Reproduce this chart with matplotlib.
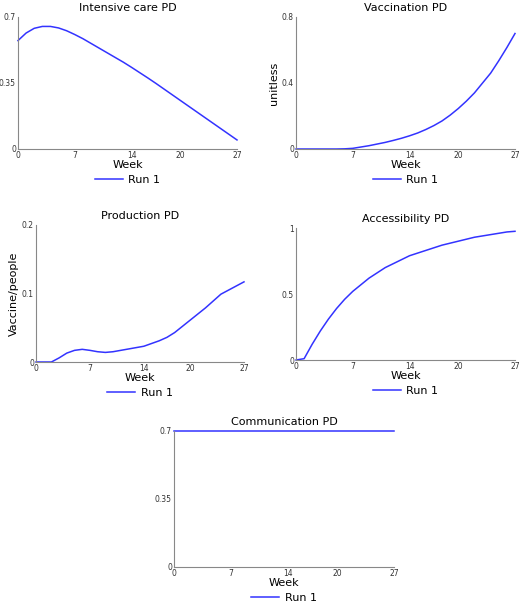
import numpy as np
import matplotlib
matplotlib.use("Agg")
import matplotlib.pyplot as plt

weeks = np.arange(28)
intensive = [0.575, 0.615, 0.64, 0.65, 0.65, 0.642, 0.627, 0.607, 0.585, 0.56, 0.535, 0.51, 0.485,
             0.46, 0.433, 0.405, 0.377, 0.348, 0.318, 0.288, 0.258, 0.228, 0.198, 0.168, 0.138,
             0.108, 0.078, 0.048]
vaccination = [0, 0, 0, 0, 0, 0, 0.001, 0.004, 0.012, 0.02, 0.03, 0.04, 0.052, 0.065, 0.08, 0.097,
               0.118, 0.142, 0.17, 0.205, 0.245, 0.29, 0.34, 0.4, 0.46, 0.535, 0.615, 0.7]
production = [0, 0, 0, 0.006, 0.013, 0.017, 0.0185, 0.017, 0.015, 0.014, 0.015, 0.017, 0.019,
              0.021, 0.023, 0.027, 0.031, 0.036, 0.043, 0.052, 0.061, 0.07, 0.079, 0.089, 0.099,
              0.105, 0.111, 0.117]
access = [0, 0.01, 0.12, 0.22, 0.31, 0.39, 0.46, 0.52, 0.57, 0.62, 0.66, 0.70, 0.73, 0.76, 0.79,
          0.81, 0.83, 0.85, 0.87, 0.885, 0.90, 0.915, 0.93, 0.94, 0.95, 0.96, 0.97, 0.975]
communication = [0.7] * 28

xticks = [0, 7, 14, 20, 27]
W, H = 520, 604

panels = [
    ("Intensive care PD", intensive, [0, 0.35, 0.7], ["0", "0.35", "0.7"], (0, 0.7), "", (18, 237, 17, 149)),
    ("Vaccination PD", vaccination, [0, 0.4, 0.8], ["0", "0.4", "0.8"], (0, 0.8), "unitless", (296, 515, 17, 149)),
    ("Production PD", production, [0, 0.1, 0.2], ["0", "0.1", "0.2"], (0, 0.2), "Vaccine/people", (36, 244, 225, 362)),
    ("Accessibility PD", access, [0, 0.5, 1], ["0", "0.5", "1"], (0, 1), "", (296, 515, 228, 360)),
    ("Communication PD", communication, [0, 0.35, 0.7], ["0", "0.35", "0.7"], (0, 0.7), "", (174, 394, 431, 567)),
]

fig = plt.figure(figsize=(W / 100, H / 100), dpi=100)
for title, vals, yt, ytl, ylim, ylab, (x0, x1, yt_px, yb_px) in panels:
    ax = fig.add_axes([x0 / W, 1 - yb_px / H, (x1 - x0) / W, (yb_px - yt_px) / H])
    ax.plot(weeks, vals, color="#3333ff", lw=1.1, label="Run 1", clip_on=False)
    ax.set_xlim(0, 27)
    ax.set_ylim(*ylim)
    ax.set_xticks(xticks)
    ax.set_yticks(yt)
    ax.set_yticklabels(ytl)
    ax.tick_params(length=0, labelsize=5.5, colors="#333333", pad=1.5)
    for s in ("top", "right"):
        ax.spines[s].set_visible(False)
    for s in ("left", "bottom"):
        ax.spines[s].set_color("#888888")
        ax.spines[s].set_linewidth(0.8)
    ax.set_title(title, fontsize=8, pad=4)
    ax.set_xlabel("Week", fontsize=8, labelpad=0)
    if ylab:
        ax.set_ylabel(ylab, fontsize=8, labelpad=2)
    ax.legend(loc="upper center", bbox_to_anchor=(0.5, -0.16), frameon=False, fontsize=8,
              handlelength=2.5, borderaxespad=0, handletextpad=0.5)

fig.savefig("out.png", dpi=100, facecolor="white")
